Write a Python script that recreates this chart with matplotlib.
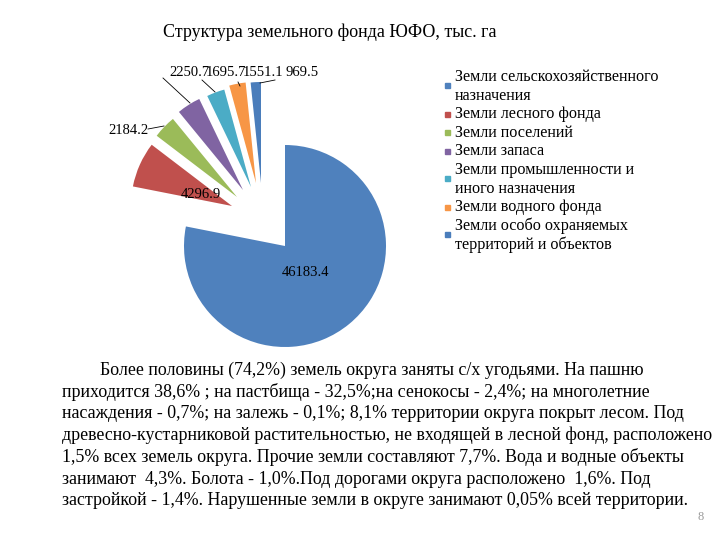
import matplotlib.pyplot as plt
from matplotlib.patches import Rectangle

plt.rcParams["font.family"] = ["Liberation Serif", "DejaVu Serif"]

title = "Структура земельного фонда ЮФО, тыс. га"
categories = [
    "Земли сельскохозяйственного\nназначения",
    "Земли лесного фонда",
    "Земли поселений",
    "Земли запаса",
    "Земли промышленности и\nиного назначения",
    "Земли водного фонда",
    "Земли особо охраняемых\nтерриторий и объектов",
]
values = [46183.4, 4296.9, 2184.2, 2250.7, 1695.7, 1551.1, 969.5]
colors = ["#4F81BD", "#C0504D", "#9BBB59", "#8064A2", "#4BACC6", "#F79646", "#4A7DBB"]

paragraph = [
    "Более половины (74,2%) земель округа заняты с/х угодьями. На пашню",
    "приходится 38,6% ; на пастбища - 32,5%;на сенокосы - 2,4%; на многолетние",
    "насаждения - 0,7%; на залежь - 0,1%; 8,1% территории округа покрыт лесом. Под",
    "древесно-кустарниковой растительностью, не входящей в лесной фонд, расположено",
    "1,5% всех земель округа. Прочие земли составляют 7,7%. Вода и водные объекты",
    "занимают  4,3%. Болота - 1,0%.Под дорогами округа расположено  1,6%. Под",
    "застройкой - 1,4%. Нарушенные земли в округе занимают 0,05% всей территории.",
]
page_no = "8"

W, H = 720, 540


def Y(y):
    # image row -> data y (axis goes up)
    return H - y


fig = plt.figure(figsize=(7.2, 5.4), dpi=100)
ax = fig.add_axes([0, 0, 1, 1])

cx, cy, r = 285, 246, 101
wedges, _ = ax.pie(values, colors=colors, startangle=90, counterclock=False,
                   center=(cx, Y(cy)), radius=r, wedgeprops=dict(edgecolor="none"))

# pulled-out slices: offset of each slice tip from the pie centre (pixels, like excel)
pull = [(0, 0), (-53, -40), (-48, -49), (-42, -56), (-34, -59), (-29, -63), (-24, -63)]
for w, (dx, dy) in zip(wedges, pull):
    w.set_center((cx + dx, Y(cy + dy)))

ax.set_xlim(0, W)
ax.set_ylim(0, H)
ax.set_aspect("auto")
ax.axis("off")

ax.text(330, Y(32), title, ha="center", va="center", fontsize=13)

# value labels
lab = [f"{v:.1f}" for v in values]
ax.text(306, Y(273), lab[0], ha="center", va="center", fontsize=10.5)
ax.text(201, Y(194), lab[1], ha="center", va="center", fontsize=10.5)
ax.text(128, Y(130), lab[2], ha="center", va="center", fontsize=10.5)
top_x = [169, 206, 243, 286]
for x, s in zip(top_x, lab[3:]):
    ax.text(x, Y(73), s, ha="left", va="center", fontsize=10.5)

# leader lines
leaders = [
    ((148, 129), (164, 126)),
    ((163, 78), (190, 103)),
    ((202, 80), (215, 92)),
    ((238, 82), (240, 86)),
    ((260, 83), (275, 80)),
]
for (x0, y0), (x1, y1) in leaders:
    ax.plot([x0, x1], [Y(y0), Y(y1)], color="black", lw=0.6)

# legend
line_y = 77
step = 18.6
for name, c in zip(categories, colors):
    rows = name.split("\n")
    for k, row in enumerate(rows):
        ax.text(455, Y(line_y + k * step), row, ha="left", va="center", fontsize=11.6)
    my = line_y + (len(rows) - 1) * step * 0.5 - (1 if len(rows) > 1 else 0)
    ax.add_patch(Rectangle((445, Y(my) - 2.5), 5, 5, color=c))
    line_y += len(rows) * step

# paragraph
py = 370
for i, line in enumerate(paragraph):
    ax.text(100 if i == 0 else 62, Y(py), line, ha="left", va="center", fontsize=12.9)
    py += 21.8

ax.text(701, Y(517), page_no, ha="center", va="center", fontsize=9, color="#999999")

fig.savefig("out.png", dpi=100)
